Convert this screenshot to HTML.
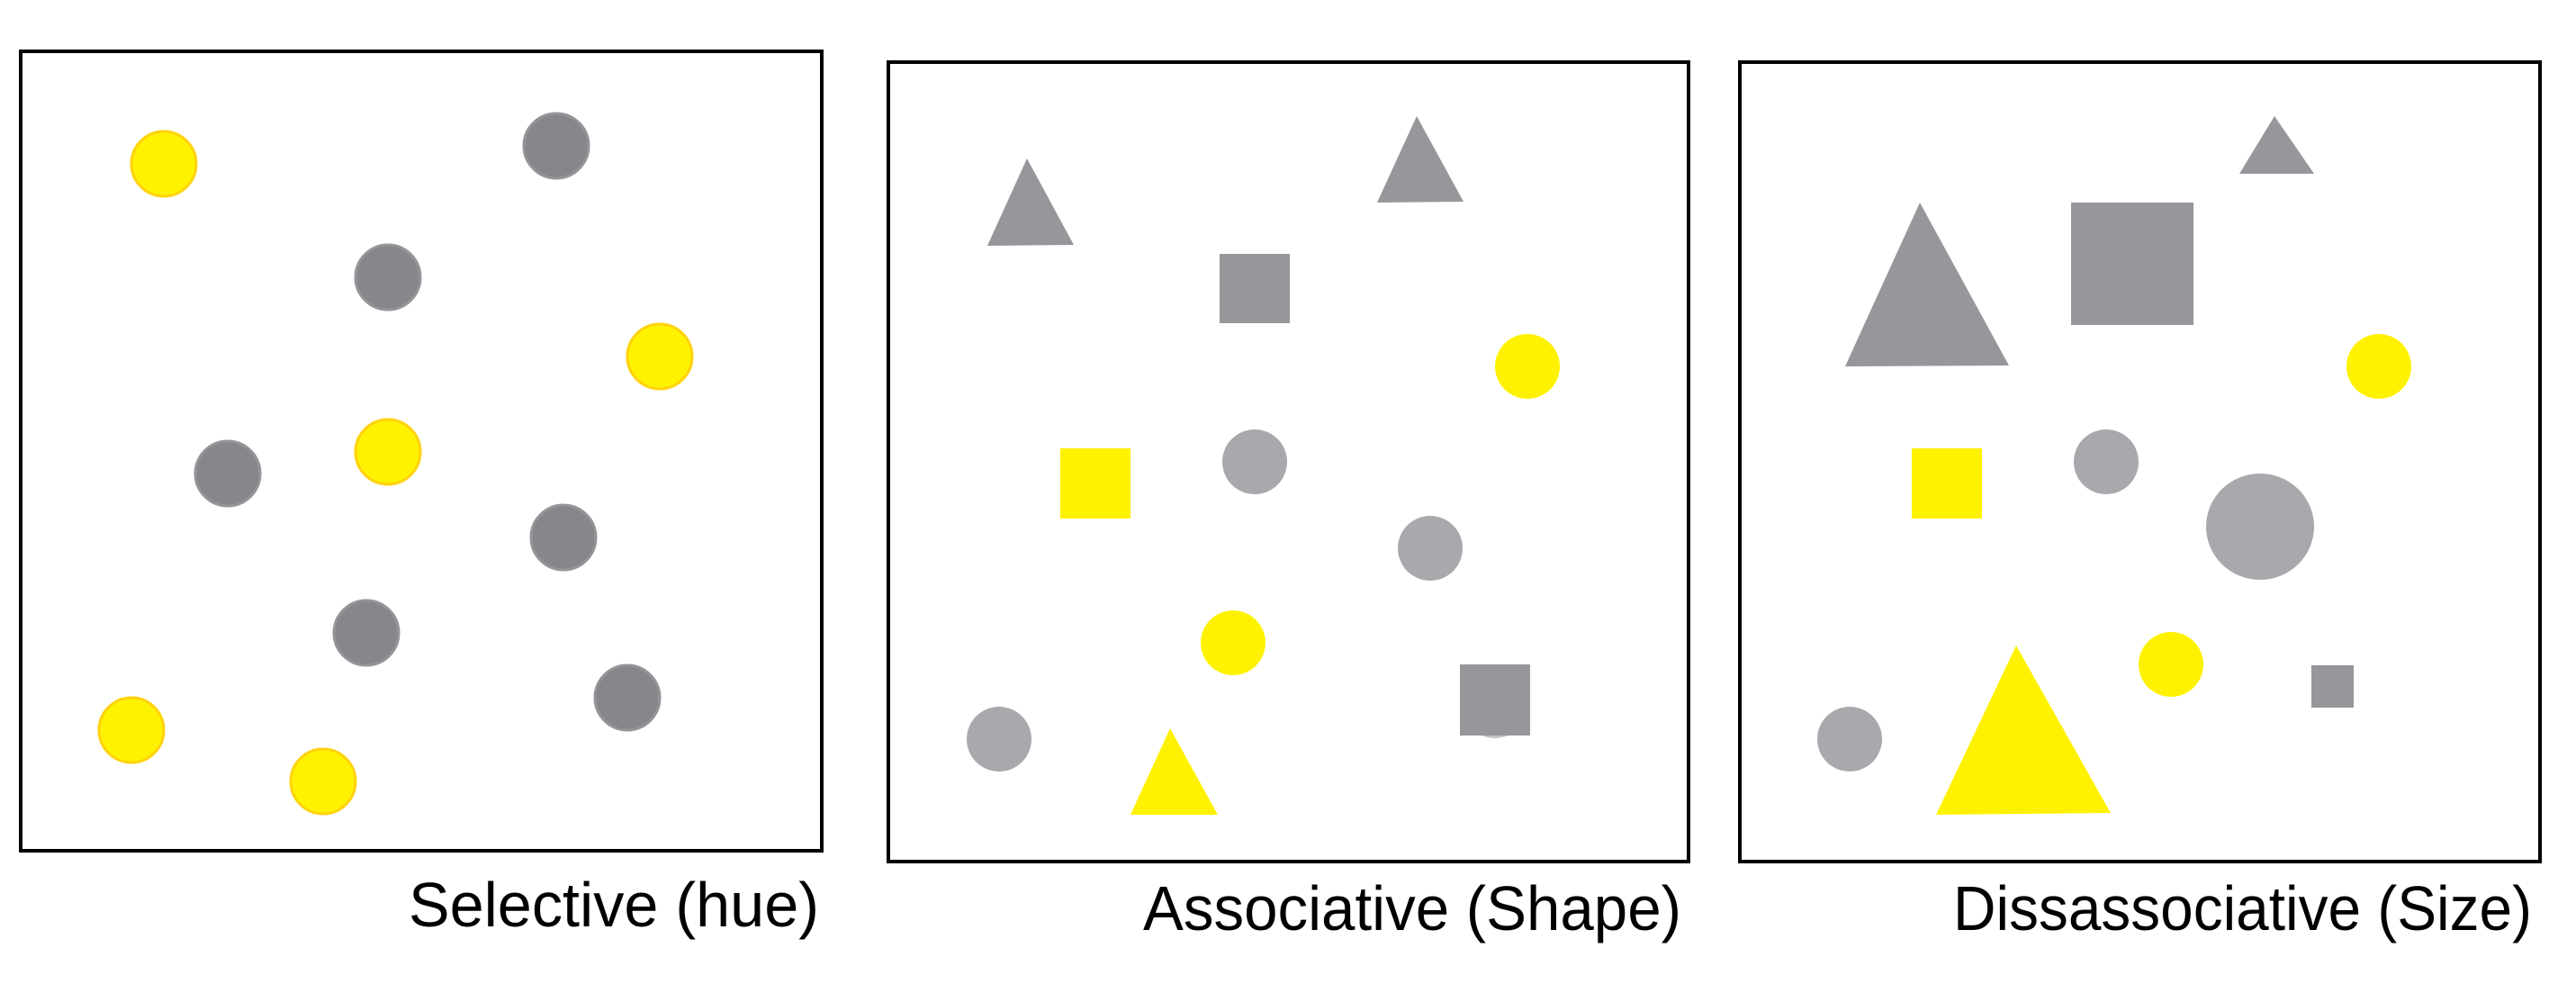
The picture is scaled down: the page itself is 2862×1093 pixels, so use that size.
<!DOCTYPE html>
<html><head><meta charset="utf-8"><style>
html,body{margin:0;padding:0;background:#fff;}
svg{display:block;}
text{font-family:"Liberation Sans",sans-serif;font-size:70px;fill:#000;}
</style></head><body>
<svg width="2862" height="1093" viewBox="0 0 2862 1093">
<g>
<rect x="23" y="57" width="890" height="888" fill="#fff" stroke="#000" stroke-width="4"/>
<g stroke-width="3">
<ellipse cx="182" cy="182" rx="36" ry="36" fill="#FFF200" stroke="#FFD20A"/>
<ellipse cx="618" cy="162" rx="36" ry="36" fill="#86878B" stroke="#939598"/>
<ellipse cx="431" cy="308" rx="36" ry="36" fill="#86878B" stroke="#939598"/>
<ellipse cx="733" cy="396" rx="36" ry="36" fill="#FFF200" stroke="#FFD20A"/>
<ellipse cx="253" cy="526" rx="36" ry="36" fill="#86878B" stroke="#939598"/>
<ellipse cx="431" cy="502" rx="36" ry="36" fill="#FFF200" stroke="#FFD20A"/>
<ellipse cx="626" cy="597" rx="36" ry="36" fill="#86878B" stroke="#939598"/>
<ellipse cx="407" cy="703" rx="36" ry="36" fill="#86878B" stroke="#939598"/>
<ellipse cx="697" cy="775" rx="36" ry="36" fill="#86878B" stroke="#939598"/>
<ellipse cx="146" cy="811" rx="36" ry="36" fill="#FFF200" stroke="#FFD20A"/>
<ellipse cx="359" cy="868" rx="36" ry="36" fill="#FFF200" stroke="#FFD20A"/>
</g>
<text x="454" y="1029" textLength="456" lengthAdjust="spacingAndGlyphs">Selective (hue)</text>
</g>

<g>
<rect x="987" y="69" width="889" height="888" fill="#fff" stroke="#000" stroke-width="4"/>
<polygon points="1141,176 1097,273 1193,272" fill="#96979A"/>
<polygon points="1574,129 1530,225 1626,224" fill="#96979A"/>
<rect x="1355" y="282" width="78" height="77" fill="#96979A"/>
<ellipse cx="1697" cy="407" rx="36" ry="36" fill="#FFF200"/>
<rect x="1178" y="498" width="78" height="78" fill="#FFF200"/>
<ellipse cx="1394" cy="513" rx="36" ry="36" fill="#A7A9AC"/>
<ellipse cx="1589" cy="609" rx="36" ry="36" fill="#A7A9AC"/>
<ellipse cx="1370" cy="714" rx="36" ry="36" fill="#FFF200"/>
<ellipse cx="1110" cy="821" rx="36" ry="36" fill="#A7A9AC"/>
<ellipse cx="1661" cy="784" rx="36" ry="36" fill="#C4C5C7"/>
<rect x="1622" y="738" width="78" height="79" fill="#96979A"/>
<polygon points="1300,809 1256,905 1353,905" fill="#FFF200"/>
<text x="1270" y="1033" textLength="598" lengthAdjust="spacingAndGlyphs">Associative (Shape)</text>
</g>

<g>
<rect x="1933" y="69" width="889" height="888" fill="#fff" stroke="#000" stroke-width="4"/>
<polygon points="2527,129 2488,193 2571,193" fill="#96979A"/>
<polygon points="2133,225 2050,407 2232,406" fill="#96979A"/>
<rect x="2301" y="225" width="136" height="136" fill="#96979A"/>
<ellipse cx="2643" cy="407" rx="36" ry="36" fill="#FFF200"/>
<rect x="2124" y="498" width="78" height="78" fill="#FFF200"/>
<ellipse cx="2340" cy="513" rx="36" ry="36" fill="#A7A9AC"/>
<ellipse cx="2511" cy="585" rx="60" ry="59" fill="#A7A9AC"/>
<ellipse cx="2412" cy="738" rx="36" ry="36" fill="#FFF200"/>
<rect x="2568" y="739" width="47" height="47" fill="#96979A"/>
<ellipse cx="2055" cy="821" rx="36" ry="36" fill="#A7A9AC"/>
<polygon points="2240,717 2151,905 2345,903" fill="#FFF200"/>
<text x="2170" y="1033" textLength="643" lengthAdjust="spacingAndGlyphs">Dissassociative (Size)</text>
</g>
</svg>
</body></html>
